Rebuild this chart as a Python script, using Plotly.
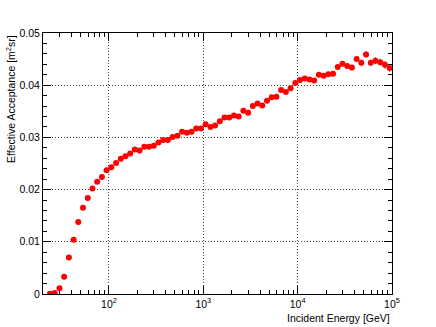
import plotly.graph_objects as go

# bin centres (GeV), 20 bins per decade
energy = [
    23.7, 26.6, 29.9, 33.5, 37.6, 42.2, 47.3, 53.1, 59.6, 66.8, 75.0, 84.1, 94.4,
    105.9, 118.9, 133.4, 149.6, 167.9, 188.4, 211.3, 237.1, 266.1, 298.5,
    335.0, 375.8, 421.7, 473.2, 530.9, 595.7, 668.3, 749.9, 841.4, 944.1,
    1059, 1189, 1334, 1496, 1679, 1884, 2113, 2371, 2661, 2985,
    3350, 3758, 4217, 4732, 5309, 5957, 6683, 7499, 8414, 9441,
    10593, 11885, 13335, 14962, 16788, 18836, 21135, 23714, 26607, 29854,
    33497, 37584, 42170, 47315, 53088, 59566, 66834, 74989, 84140, 94406,
]

acceptance = [
    0.00003, 0.0002, 0.0011, 0.0033, 0.0070, 0.0104, 0.0138, 0.0165, 0.0184, 0.0202,
    0.0215, 0.0224, 0.0237, 0.0243, 0.0251, 0.0259, 0.0264, 0.0269, 0.0277, 0.0275,
    0.0282, 0.0282, 0.0284, 0.0290, 0.0295, 0.0295, 0.0301, 0.0303, 0.0311, 0.0309,
    0.0311, 0.0317, 0.0317, 0.0325, 0.0320, 0.0323, 0.0331, 0.0338, 0.0338, 0.0342,
    0.0340, 0.0351, 0.0347, 0.0360, 0.0365, 0.0361, 0.0370, 0.0377, 0.0378, 0.0391,
    0.0387, 0.0394, 0.0404, 0.0410, 0.0413, 0.0411, 0.0409, 0.0420, 0.0418, 0.0421,
    0.0422, 0.0435, 0.0441, 0.0437, 0.0434, 0.0450, 0.0443, 0.0459, 0.0443, 0.0447,
    0.0444, 0.0439, 0.0433,
]

acceptance_err = [
    0.00005, 0.0001, 0.0001, 0.0001, 0.0001, 0.0001, 0.0001, 0.0001, 0.0001, 0.0001,
    0.0001, 0.0001, 0.0001, 0.0001, 0.0001, 0.0001, 0.0001, 0.0001, 0.0001, 0.0001,
    0.0001, 0.0001, 0.0001, 0.00015, 0.00015, 0.00015, 0.00015, 0.00015, 0.00015, 0.00015,
    0.00015, 0.0002, 0.0002, 0.0002, 0.0002, 0.0002, 0.0002, 0.0002, 0.0002, 0.0002,
    0.0002, 0.00025, 0.00025, 0.00025, 0.00025, 0.00025, 0.00025, 0.0003, 0.0003, 0.0003,
    0.0003, 0.0003, 0.0003, 0.00035, 0.00035, 0.0004, 0.0004, 0.0004, 0.0004, 0.00045,
    0.00045, 0.0005, 0.0005, 0.0005, 0.00055, 0.00055, 0.0006, 0.0006, 0.0006, 0.00065,
    0.00065, 0.0007, 0.0007,
]

# half bin width in log space (bins are 0.05 decades wide)
half = 10 ** 0.025
err_hi = [e * (half - 1) for e in energy]
err_lo = [e * (1 - 1 / half) for e in energy]

major_x = [100, 1000, 10000, 100000]
major_x_text = ["10<sup>2</sup>", "10<sup>3</sup>", "10<sup>4</sup>", "10<sup>5</sup>"]
minor_x = [m * d for d in (10, 100, 1000, 10000) for m in range(2, 10) if m * d >= 20]

major_y = [0, 0.01, 0.02, 0.03, 0.04, 0.05]
major_y_text = ["0", "0.01", "0.02", "0.03", "0.04", "0.05"]

FONT = "Liberation Sans, Arial, Helvetica, sans-serif"
GRID = dict(showgrid=True, gridcolor="#444444", griddash="1px,2px", gridwidth=1)
FRAME = dict(ticks="inside", ticklen=8, tickcolor="black",
             showline=True, linecolor="black", linewidth=1, mirror="allticks",
             tickfont=dict(size=10.5, color="black"), zeroline=False)

fig = go.Figure()
fig.add_trace(go.Scatter(
    x=energy, y=acceptance, mode="markers",
    marker=dict(color="#ff0000", size=6, symbol="circle"),
    error_y=dict(type="data", array=acceptance_err, color="#ff0000", thickness=1, width=0),
    error_x=dict(type="data", array=err_hi, arrayminus=err_lo, symmetric=False,
                 color="#ff0000", thickness=1, width=0),
    showlegend=False,
))

fig.update_xaxes(
    type="log", range=[1.301, 5.0],
    tickmode="array", tickvals=major_x, ticktext=major_x_text,
    minor=dict(tickmode="array", tickvals=minor_x, ticks="inside", ticklen=4,
               tickcolor="black", showgrid=False),
    **GRID, **FRAME,
)
fig.update_yaxes(
    range=[0, 0.05], tickmode="array", tickvals=major_y, ticktext=major_y_text,
    minor=dict(dtick=0.002, tick0=0, ticks="inside", ticklen=4, tickcolor="black", showgrid=False),
    **GRID, **FRAME,
)

fig.add_annotation(
    text="Incident Energy [GeV]", xref="paper", yref="paper",
    x=1, y=0, xanchor="right", yanchor="top", yshift=-16,
    showarrow=False, font=dict(size=10.5, color="black"),
)
fig.add_annotation(
    text="Effective Acceptance [m<sup>2</sup>sr]", xref="paper", yref="paper",
    x=0, y=1, xanchor="center", yanchor="top", xshift=-33, textangle=-90,
    showarrow=False, font=dict(size=10.5, color="black"),
)

fig.update_layout(
    width=436, height=327,
    margin=dict(l=43, r=44, t=33, b=33),
    plot_bgcolor="white", paper_bgcolor="white",
    font=dict(family=FONT, color="black"),
)

fig.write_html("out.html", config={"displayModeBar": False},
               post_script="document.body.style.margin='0';")
